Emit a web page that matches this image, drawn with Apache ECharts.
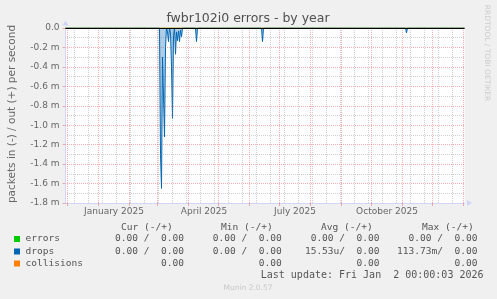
<!DOCTYPE html>
<html>
<head>
<meta charset="utf-8">
<script src="https://cdn.jsdelivr.net/npm/echarts@6/dist/echarts.min.js"></script>
<style>
html,body{margin:0;padding:0;background:#f0f0f0;}
#chart{width:497px;height:299px;}
</style>
</head>
<body>
<div id="chart"></div>
<script>
// ---- data ----
const rangeStart = '2024-11-29';
const rangeEnd = '2026-01-02';

// drops (in, shown negative), in milli-packets per second
const dropDates = ['2024-11-29','2025-03-03','2025-03-04','2025-03-05','2025-03-06','2025-03-07','2025-03-08','2025-03-09','2025-03-10','2025-03-11','2025-03-12','2025-03-13','2025-03-14','2025-03-15','2025-03-16','2025-03-17','2025-03-18','2025-03-19','2025-03-20','2025-03-21','2025-03-22','2025-03-23','2025-03-24','2025-03-25','2025-03-26','2025-04-08','2025-04-09','2025-04-10','2025-06-13','2025-06-14','2025-06-15','2025-11-04','2025-11-05','2025-11-06','2026-01-02'];
const dropValues = [0,0,-1.30,-1.65,-0.30,-0.70,-1.12,-0.20,0,-0.04,-0.14,0,-0.05,-0.40,-0.93,-0.08,0,-0.27,-0.04,-0.13,-0.03,-0.14,-0.02,-0.09,0,0,-0.14,0,0,-0.14,0,0,-0.05,0,0];
const errorValues = [0,0];
const collisionValues = [0,0];

const monthLines = ['2024-12-01','2025-01-01','2025-02-01','2025-03-01','2025-04-01','2025-05-01','2025-06-01','2025-07-01','2025-08-01','2025-09-01','2025-10-01','2025-11-01','2025-12-01','2026-01-01'];
const weekLines = ['2024-12-08','2024-12-22','2025-01-05','2025-01-19','2025-02-02','2025-02-16','2025-03-02','2025-03-16','2025-03-30','2025-04-13','2025-04-27','2025-05-11','2025-05-25','2025-06-08','2025-06-22','2025-07-06','2025-07-20','2025-08-03','2025-08-17','2025-08-31','2025-09-14','2025-09-28','2025-10-12','2025-10-26','2025-11-09','2025-11-23','2025-12-07','2025-12-21'];
const xLabelDates = ['2025-01-16T12:00','2025-04-16T12:00','2025-07-16T12:00','2025-10-16T12:00'];
const xLabelTexts = ['January 2025','April 2025','July 2025','October 2025'];

const yMin = -1.8, yMax = 0, yStep = 0.2;

const legendNames = ['errors','drops','collisions'];
const legendColors = ['#00cc00','#0066b3','#ff8000'];
const colHeaders = ['Cur (-/+)','Min (-/+)','Avg (-/+)','Max (-/+)'];
const curValues = ['0.00 /  0.00','0.00 /  0.00','0.00'];
const minValues = ['0.00 /  0.00','0.00 /  0.00','0.00'];
const avgValues = ['0.00 /  0.00','15.53u/  0.00','0.00'];
const maxValues = ['0.00 /  0.00','113.73m/  0.00','0.00'];
const lastUpdate = 'Last update: Fri Jan  2 00:00:03 2026';
const titleText = 'fwbr102i0 errors - by year';
const yName = 'packets in (-) / out (+) per second';

// ---- build ----
const t = s => Date.parse(s.length === 10 ? s + 'T00:00:00Z' : s + ':00Z');
const xMin = t(rangeStart), xMax = t(rangeEnd);
const labelTimes = xLabelDates.map(t);

const RED = 'rgba(235,100,100,0.5)';
const GRAY = 'rgba(150,150,150,0.45)';
const FONT = '"DejaVu Sans", sans-serif';
const MONO = '"DejaVu Sans Mono", monospace';

const gridMarks = [].concat(
  weekLines.map(d => ({xAxis: t(d), lineStyle: {color: GRAY, width: 1, type: [1, 1], dashOffset: 0}})),
  monthLines.map(d => ({xAxis: t(d), lineStyle: {color: RED, width: 1, type: [1, 1], dashOffset: 0}}))
);

const graphics = [];
graphics.push({type:'text', x:248, y:19, style:{text:titleText, font:'12.5px ' + FONT, fill:'#505050', align:'center', verticalAlign:'middle'}});
graphics.push({type:'text', x:12, y:114, rotation:Math.PI/2, style:{text:yName, font:'10.5px ' + FONT, fill:'#666', align:'center', verticalAlign:'middle'}});
graphics.push({type:'text', x:487, y:53, rotation:-Math.PI/2, style:{text:'RRDTOOL / TOBI OETIKER', font:'7.5px ' + FONT, fill:'#cccccc', align:'center', verticalAlign:'middle'}});
const headerX = [121, 221, 321, 422];
colHeaders.forEach((h, i) => graphics.push({type:'text', x:headerX[i], y:227.5, style:{text:h, font:'9.55px ' + MONO, fill:'#555', align:'left', verticalAlign:'middle'}}));
const rowY = [239, 251.5, 263.5];
const colRight = [184, 281.8, 379.6, 477.4];
const cols = [curValues, minValues, avgValues, maxValues];
legendNames.forEach((n, r) => {
  graphics.push({type:'rect', shape:{x:14, y:rowY[r]-3, width:6, height:6}, style:{fill:legendColors[r]}});
  graphics.push({type:'text', x:25.5, y:rowY[r], style:{text:n, font:'9.55px ' + MONO, fill:'#555', align:'left', verticalAlign:'middle'}});
  cols.forEach((c, ci) => graphics.push({type:'text', x:colRight[ci], y:rowY[r], style:{text:c[r], font:'9.55px ' + MONO, fill:'#555', align:'right', verticalAlign:'middle'}}));
});
graphics.push({type:'text', x:483.5, y:275.3, style:{text:lastUpdate, font:'10px ' + MONO, fill:'#555', align:'right', verticalAlign:'middle'}});
graphics.push({type:'text', x:248, y:288, style:{text:'Munin 2.0.57', font:'7.5px ' + FONT, fill:'#c8c8c8', align:'center', verticalAlign:'middle'}});

const chart = echarts.init(document.getElementById('chart'), null, {renderer:'canvas'});
chart.setOption({
  backgroundColor: '#f0f0f0',
  animation: false,
  grid: {left: 65.5, right: 32.5, top: 28, bottom: 96, show: true, backgroundColor: '#ffffff', borderWidth: 0},
  xAxis: {
    type: 'value', min: xMin, max: xMax,
    splitLine: {show: false},
    axisLine: {onZero: false, lineStyle: {color: '#CFD6F8', width: 1}, symbol: ['none', 'triangle'], symbolSize: [6, 5], symbolOffset: [0, 5]},
    axisTick: {show: true, customValues: monthLines.map(t), length: 3, lineStyle: {color: RED}},
    axisLabel: {customValues: labelTimes, margin: 4, color: '#666', fontFamily: 'DejaVu Sans', fontSize: 9,
      formatter: v => { const i = labelTimes.indexOf(v); return i >= 0 ? xLabelTexts[i] : ''; }}
  },
  yAxis: {
    type: 'value', min: yMin, max: yMax, interval: yStep,
    axisLine: {show: true, lineStyle: {color: '#CFD6F8', width: 1}, symbol: ['none', 'triangle'], symbolSize: [6, 5], symbolOffset: [0, 5]},
    axisTick: {show: true, length: 3, lineStyle: {color: RED}},
    axisLabel: {margin: 6, color: '#666', fontFamily: 'DejaVu Sans', fontSize: 9,
      formatter: v => Math.abs(v) < 1e-9 ? '0.0' : v.toFixed(1) + ' m'},
    splitLine: {show: true, lineStyle: {color: RED, width: 1, type: [1, 1], dashOffset: 0.5}},
    minorTick: {show: false, splitNumber: 2},
    minorSplitLine: {show: true, lineStyle: {color: GRAY, width: 1, type: [1, 1], dashOffset: 0.5}}
  },
  series: [
    {type: 'line', name: 'grid', z: 1, silent: true, symbol: 'none', data: [[xMin, 0]], lineStyle: {opacity: 0},
      markLine: {silent: true, symbol: 'none', animation: false, label: {show: false}, data: gridMarks}},
    {type: 'line', name: 'errors', z: 2, symbol: 'none', data: [[xMin, errorValues[0]], [xMax, errorValues[1]]], lineStyle: {color: legendColors[0], width: 1}},
    {type: 'line', name: 'collisions', z: 2, symbol: 'none', data: [[xMin, collisionValues[0]], [xMax, collisionValues[1]]], lineStyle: {color: legendColors[2], width: 1}},
    {type: 'line', name: 'drops', z: 3, symbol: 'none', data: dropDates.map((d, i) => [t(d), dropValues[i]]),
      lineStyle: {color: legendColors[1], width: 1}, areaStyle: {color: 'rgba(0,102,179,0.45)'}},
    {type: 'line', name: 'zero', z: 4, silent: true, symbol: 'none', data: [[xMin, 0]], lineStyle: {opacity: 0},
      markLine: {silent: true, symbol: 'none', animation: false, label: {show: false}, data: [{yAxis: 0, lineStyle: {color: '#000', width: 1, type: 'solid'}}]}}
  ],
  graphic: graphics
});
</script>
</body>
</html>
